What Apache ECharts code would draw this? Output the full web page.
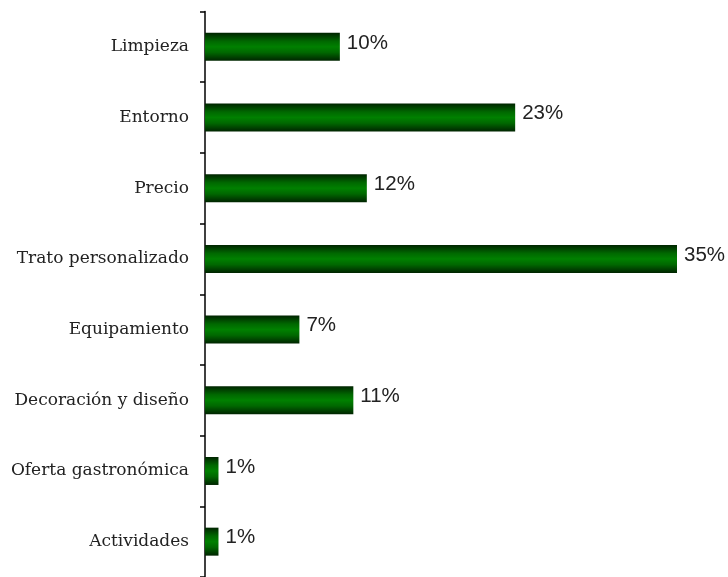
<!DOCTYPE html>
<html>
<head>
<meta charset="utf-8">
<script src="https://cdn.jsdelivr.net/npm/echarts@6/dist/echarts.min.js"></script>
<style>html,body{margin:0;padding:0;background:#fff}#chart{width:728px;height:577px}</style>
</head>
<body>
<div id="chart"></div>
<script>
// Motivos de elección (porcentaje de respuestas)
const categories = ['Limpieza', 'Entorno', 'Precio', 'Trato personalizado', 'Equipamiento', 'Decoración y diseño', 'Oferta gastronómica', 'Actividades'];
const values = [10, 23, 12, 35, 7, 11, 1, 1];

const chart = echarts.init(document.getElementById('chart'));
chart.setOption({
  animation: false,
  grid: { left: 205, top: 11.5, width: 472, height: 567, containLabel: false },
  xAxis: { type: 'value', min: 0, max: 35, show: false },
  yAxis: {
    type: 'category',
    data: categories,
    inverse: true,
    axisLine: { show: true, lineStyle: { color: '#000', width: 1.5 } },
    axisTick: { show: true, length: 5, alignWithLabel: false, lineStyle: { color: '#000', width: 1.5 } },
    axisLabel: { color: '#222', fontFamily: 'DejaVu Serif', fontSize: 17, margin: 16 }
  },
  series: [{
    type: 'bar',
    data: values,
    barWidth: 28,
    itemStyle: {
      color: new echarts.graphic.LinearGradient(0, 0, 0, 1, [
        { offset: 0, color: '#002400' },
        { offset: 0.3, color: '#006800' },
        { offset: 0.5, color: '#008000' },
        { offset: 0.7, color: '#006800' },
        { offset: 1, color: '#002400' }
      ])
    },
    label: {
      show: true,
      position: 'right',
      distance: 7,
      offset: [0, -4],
      formatter: '{c}%',
      color: '#222',
      fontFamily: 'Liberation Sans',
      fontSize: 20.5
    }
  }]
});
</script>
</body>
</html>
